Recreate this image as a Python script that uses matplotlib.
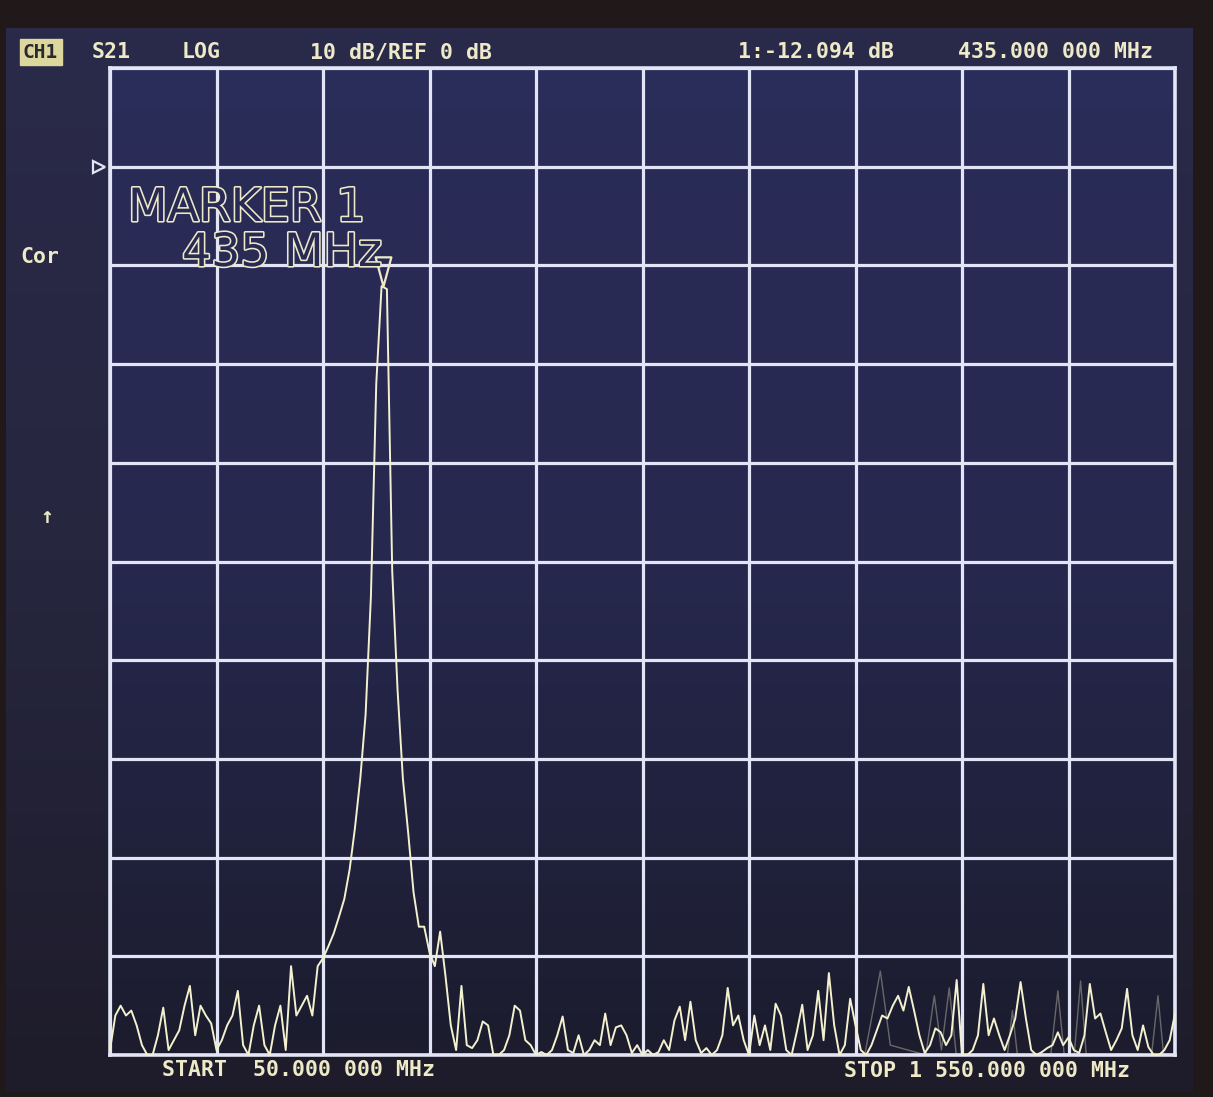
import numpy as np
import matplotlib
matplotlib.use("Agg")
import matplotlib.pyplot as plt
import matplotlib.patheffects as pe
from matplotlib.path import Path
from matplotlib import transforms
from matplotlib.colors import LinearSegmentedColormap

# ---------------- data ----------------
START_MHZ = 50.0
STOP_MHZ = 1550.0
REF_DB = 0.0
DB_PER_DIV = 10.0
N_DIV = 10
REF_POS_DIV = 9          # reference line sits 9 divisions above the bottom
MARKER_MHZ = 435.0
MARKER_DB = -12.094

# S21 sweep (201 points, START..STOP), dB
s21_db = [
    -89.5, -86, -85, -86, -85.5, -87, -89, -90, -90, -88,
    -85.2, -89.5, -88.5, -87.5, -85, -83, -88, -85, -86, -86.8,
    -89.5, -88.5, -87, -86, -83.5, -89, -90, -87, -85, -89,
    -90, -87, -85, -89.5, -81, -86, -85, -84, -86, -81,
    -80.2, -79, -77.7, -76, -74.2, -71.2, -67, -62, -55.5, -43.5,
    -22, -12.1, -12.4, -41, -53, -62, -67.5, -73.5, -77, -77,
    -79.6, -81, -77.5, -82, -87, -89.5, -83, -89, -89.3, -88.5,
    -86.6, -87, -90, -90, -89.5, -88, -85, -85.5, -88.5, -89,
    -90, -89.7, -90, -89.5, -88, -86.1, -89.5, -89.8, -88, -90,
    -89.5, -88.5, -89, -85.8, -89, -87.2, -87, -88, -89.8, -89,
    -90, -89.5, -90, -89.7, -88.5, -89.5, -86.5, -85.1, -88.5, -84.6,
    -88.5, -89.8, -89.3, -90, -89.5, -88, -83.2, -87, -86, -88.5,
    -90, -86, -89, -87, -89.5, -84.8, -86, -89.5, -90, -87.6,
    -84.9, -89.5, -88, -83.5, -88.5, -81.7, -87, -90, -89, -84.3,
    -87, -89.5, -90, -89, -87.5, -86, -86.3, -85, -84, -85.5,
    -83.1, -85.5, -88, -89.8, -89, -87.3, -87.7, -89, -88, -82.4,
    -90, -90, -89.5, -88, -82.8, -88, -86.3, -88, -89.5, -88,
    -86.3, -82.6, -86.3, -89.5, -90, -89.7, -89.3, -89, -87.7, -89,
    -88.2, -89.5, -89.8, -88, -82.8, -86.3, -85.8, -87.7, -89.5, -88.5,
    -87.3, -83.3, -88, -89.5, -87, -89.2, -90, -90, -89.5, -88.5, -85.8,
]

# faint persistence of a previous sweep (right half)
ghost_mhz = [1113, 1135, 1149, 1199, 1211, 1221, 1232, 1242, 1314, 1321, 1328,
             1375, 1385, 1394, 1408, 1417, 1425, 1517, 1526, 1534]
ghost_db = [-90, -81.5, -89, -90, -84, -89.5, -83.2, -90, -90, -85.5, -90,
            -90, -83.5, -90, -90, -82.5, -90, -90, -84, -90]

header_texts = ["S21", "LOG", "10 dB/REF 0 dB"]
marker_readout = "1:-12.094 dB"
marker_freq_text = "435.000 000 MHz"
start_text = "START  50.000 000 MHz"
stop_text = "STOP 1 550.000 000 MHz"
marker_title = "MARKER 1"
marker_sub = "435 MHz"

# ---------------- figure ----------------
W, H = 1213, 1097
fig = plt.figure(figsize=(W / 100, H / 100), dpi=100)
fig.patch.set_facecolor("#211919")

CREAM = "#eeeac8"
GRID = "#e2e5f5"

# screen background
bg = fig.add_axes([0, 0, 1, 1])
bg.set_xlim(0, W)
bg.set_ylim(H, 0)
bg.axis("off")
scr_cmap = LinearSegmentedColormap.from_list("scr", ["#2a2a4a", "#26263f", "#1e1c2a"])
bg.imshow(np.linspace(0, 1, 256).reshape(-1, 1), extent=(6, 1193, 1092, 28),
          cmap=scr_cmap, aspect="auto", zorder=0)

def ftext(x, y, s, **kw):
    return fig.text(x / W, 1 - y / H, s, **kw)

# main grid axes
L, R, T, B = 110, 1175, 68, 1055
ax = fig.add_axes([L / W, 1 - B / H, (R - L) / W, (B - T) / H])
ymax = REF_DB + (N_DIV - REF_POS_DIV) * DB_PER_DIV
ymin = REF_DB - REF_POS_DIV * DB_PER_DIV
ax.set_xlim(START_MHZ, STOP_MHZ)
ax.set_ylim(ymin, ymax)
ax.set_facecolor("none")
in_cmap = LinearSegmentedColormap.from_list("in", ["#2b2d5a", "#26284e", "#1c1c2e"])
ax.imshow(np.linspace(0, 1, 256).reshape(-1, 1),
          extent=(START_MHZ, STOP_MHZ, ymin, ymax),
          cmap=in_cmap, aspect="auto", zorder=0)
ax.set_xticks(np.linspace(START_MHZ, STOP_MHZ, N_DIV + 1))
ax.set_yticks(np.linspace(ymin, ymax, N_DIV + 1))
ax.tick_params(length=0, labelbottom=False, labelleft=False)
ax.grid(True, color=GRID, linewidth=2.3)
for sp in ax.spines.values():
    sp.set_color(GRID)
    sp.set_linewidth(2.6)

freq = np.linspace(START_MHZ, STOP_MHZ, len(s21_db))
ax.plot(ghost_mhz, ghost_db, color="#9a9a92", lw=1.0, alpha=0.6, zorder=2.5,
        clip_on=False)
ax.plot(freq, s21_db, color="#f3f1cf", lw=1.4, zorder=3, clip_on=False)

# marker triangle (tip on the marker point)
tri = Path([(-0.27, 1.0), (0.27, 1.0), (0.0, 0.0), (-0.27, 1.0)],
           [Path.MOVETO, Path.LINETO, Path.LINETO, Path.CLOSEPOLY])
ax.plot([MARKER_MHZ], [MARKER_DB], marker=tri, markersize=42, mfc="none",
        mec=CREAM, mew=1.6, clip_on=False, zorder=4, linestyle="none")

# reference position triangle at left
ref_tr = transforms.offset_copy(ax.transData, fig=fig, x=-11, y=0, units="dots")
ax.plot([START_MHZ], [REF_DB], marker=">", markersize=9, mfc="none",
        mec=GRID, mew=1.6, clip_on=False, transform=ref_tr, linestyle="none")

# header
mono = ["DejaVu Sans Mono", "DejaVu Sans"]
hdr = dict(family=mono, fontsize=15.5, fontweight="bold", color=CREAM, va="center")
ftext(23, 52, "CH1", family=mono, fontsize=14, fontweight="bold", color="#2a2830",
      va="center",
      bbox=dict(boxstyle="square,pad=0.18", fc="#dcd79c", ec="#dcd79c"))
for x, s in zip([92, 182, 310], header_texts):
    ftext(x, 52, s, **hdr)
ftext(738, 52, marker_readout, **hdr)
ftext(1153, 52, marker_freq_text, ha="right", **{k: v for k, v in hdr.items()})

# left annotations
ftext(20, 257, "Cor", **hdr)
ftext(47, 517, "\u2191", ha="center", **{k: v for k, v in hdr.items() if k != "va"}, va="center")

# bottom
ftext(162, 1070, start_text, **hdr)
ftext(1130, 1071, stop_text, ha="right", **hdr)

# big hollow marker text
hollow = dict(family="DejaVu Sans", fontsize=33, color="#282a55", va="top",
              path_effects=[pe.Stroke(linewidth=2.3, foreground=CREAM), pe.Normal()])
ftext(128, 186, marker_title, **hollow)
ftext(182, 231, marker_sub, **hollow)

fig.savefig("out.png", dpi=100, facecolor=fig.get_facecolor())
